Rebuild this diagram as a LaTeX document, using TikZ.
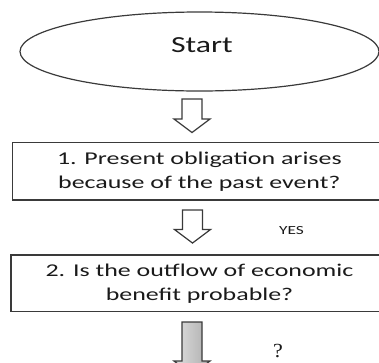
\documentclass[tikz,border=0pt]{standalone}
\usepackage{fontspec}
\setmainfont{Carlito}
\newfontfamily\qserif{Liberation Serif}
\usepackage{graphicx}
\usetikzlibrary{shapes.geometric}
\definecolor{edge}{HTML}{3A3A3A}
\definecolor{ink}{HTML}{1A1A1A}
\newcommand{\boxtext}[2]{\scalebox{1.44}[1]{\begin{tabular}{@{}c@{}}#1\\#2\end{tabular}}}
\tikzset{
  stepbox/.style={draw=edge, line width=1.3pt, rectangle, inner sep=0pt,
    text=ink, font=\fontsize{18}{24}\selectfont},
  startshape/.style={draw=edge, line width=1.2pt, ellipse, inner sep=0pt,
    minimum width=359pt, minimum height=79pt},
  blockarrow/.style={draw=edge, line width=1.2pt, line join=miter, fill=white},
  plainlabel/.style={text=ink, inner sep=0pt, anchor=base}
}
\newcommand{\blockarr}[3]{% coordinate name, shaft length, options
  \draw[blockarrow,#3] (#1) ++(-10,0) -- ++(0,#2) -- ++(-8,0) -- ++(18,13.5)
    -- ++(18,-13.5) -- ++(-8,0) -- ++(0,-#2) -- cycle;}
\begin{document}
\begin{tikzpicture}[x=1pt,y=-1pt]
\useasboundingbox (0,0) rectangle (379,362);
% start ellipse
\node[startshape] (start) at (199.5,51.5) {};
\node[plainlabel, font=\fontsize{23}{27}\selectfont] (starttext) at (202,52.7)
  {\scalebox{1.38}[1]{Start}};
% boxes
\node[stepbox, minimum width=373.3pt, minimum height=57.3pt] (q1) at (199.35,171.35)
  {\boxtext{1. Present obligation arises}{because of the past event?}};
\node[stepbox, minimum width=377pt, minimum height=56.7pt] (q2) at (199.5,283.35)
  {\boxtext{2. Is the outflow of economic}{benefit probable?}};
% arrows
\coordinate (a1) at (192,99);
\coordinate (a2) at (192.5,210);
\coordinate (a3) at (192,322);
\blockarr{a1}{20}{}
\blockarr{a2}{19.5}{}
\blockarr{a3}{39}{left color=gray!25, right color=gray!65}
% labels
\node[plainlabel, font=\fontsize{12.4}{14}\selectfont] (yes) at (291.5,234.3)
  {\scalebox{1.4}[1]{YES}};
\node[plainlabel, font=\fontsize{20}{24}\qserif] (qm) at (278,357)
  {\scalebox{1.1}[1]{?}};
\end{tikzpicture}
\end{document}
